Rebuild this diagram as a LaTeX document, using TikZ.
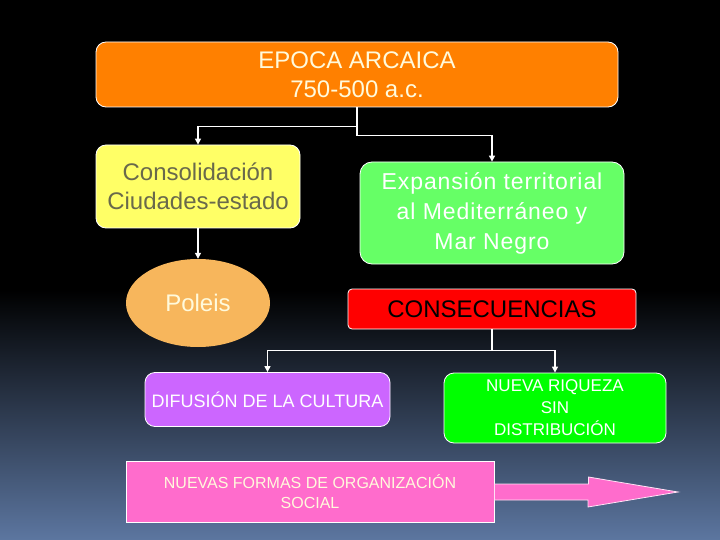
\documentclass[tikz,border=0pt]{standalone}
\usepackage{fontspec}
\setmainfont{Liberation Sans}
\newfontfamily\widefont[LetterSpace=4]{Liberation Sans}
\usepackage{tikz}
\usetikzlibrary{arrows.meta, shapes.geometric}
\usepackage{xcolor}
\definecolor{bgblue}{RGB}{92,118,160}
\definecolor{archaic}{RGB}{255,128,0}
\definecolor{cream}{RGB}{255,250,220}
\definecolor{lemon}{RGB}{255,255,102}
\definecolor{olivetext}{RGB}{105,105,75}
\definecolor{peach}{RGB}{247,182,92}
\definecolor{softgreen}{RGB}{102,255,102}
\definecolor{alarm}{RGB}{255,0,0}
\definecolor{violet}{RGB}{204,102,255}
\definecolor{brightgreen}{RGB}{0,255,0}
\definecolor{rosa}{RGB}{255,108,204}

\begin{document}
\begin{tikzpicture}[x=1pt, y=-1pt,
  box/.style={draw=white, line width=0.8pt, inner sep=0pt, align=center},
  link/.style={draw=white, line width=1.2pt, -{Triangle[length=6pt, width=6pt]}},
  big/.style={font=\fontsize{24}{29}\selectfont},
  small/.style={font=\fontsize{17}{22}\selectfont}]
  \useasboundingbox (0,0) rectangle (720,540);

  % Background
  \fill[black] (0,0) rectangle (720,540);
  \shade[top color=black, bottom color=bgblue] (0,290) rectangle (720,540);

  % Title
  \node[box, big, fill=archaic, text=cream, rounded corners=10pt,
    minimum width=522pt, minimum height=65pt] (title) at (357,74.5)
    {EPOCA ARCAICA\\750-500 a.c.};

  % Left branch
  \node[box, big, fill=lemon, text=olivetext, rounded corners=10pt,
    minimum width=204pt, minimum height=83pt] (consol) at (198,186.5)
    {Consolidación\\Ciudades-estado};
  \node[ellipse, fill=peach, text=cream, big, inner sep=0pt,
    minimum width=144pt, minimum height=88pt] (poleis) at (198,303) {Poleis};

  % Right branch
  \node[box, fill=softgreen, text=white, rounded corners=12pt,
    font=\widefont\fontsize{23}{30}\selectfont,
    minimum width=264pt, minimum height=102pt] (expan) at (492,213)
    {Expansión territorial\\al Mediterráneo y\\Mar Negro};
  \node[box, big, fill=alarm, text=black, rounded corners=4pt,
    minimum width=288pt, minimum height=40pt] (conse) at (492,309)
    {CONSECUENCIAS};

  % Consequences
  \node[box, fill=violet, text=white, rounded corners=10pt,
    font=\fontsize{18}{22}\selectfont,
    minimum width=245pt, minimum height=54pt] (difu) at (267.5,399.5)
    {DIFUSIÓN DE LA CULTURA};
  \node[box, small, fill=brightgreen, text=white, rounded corners=10pt,
    minimum width=222pt, minimum height=70pt] (nueva) at (555,408)
    {NUEVA RIQUEZA\\SIN\\DISTRIBUCIÓN};
  \node[box, fill=rosa, text=cream, font=\fontsize{16}{20.5}\selectfont,
    minimum width=368pt, minimum height=61pt] (nuevas) at (310,491.5)
    {NUEVAS FORMAS DE ORGANIZACIÓN\\SOCIAL};

  % Block arrow
  \coordinate (tip) at (678,492);
  \filldraw[fill=rosa, draw=white!80!rosa, line width=0.8pt]
    ([yshift=7.5pt]nuevas.east) -- ++(94,0) -- ++(0,-7) -- (tip)
    -- (588,507) -- (588,500) -- ([yshift=-8.5pt]nuevas.east) -- cycle;

  % Connectors
  \draw[link] (title.south) -- ++(0,19) -| (consol.north);
  \draw[link] (title.south) -- ++(0,28) -| (expan.north);
  \draw[link] (consol.south) -- (poleis.north);
  \draw[link] (conse.south) -- ++(0,21) -| (difu.north);
  \draw[link] (conse.south) -- ++(0,21) -| (nueva.north);
\end{tikzpicture}
\end{document}
